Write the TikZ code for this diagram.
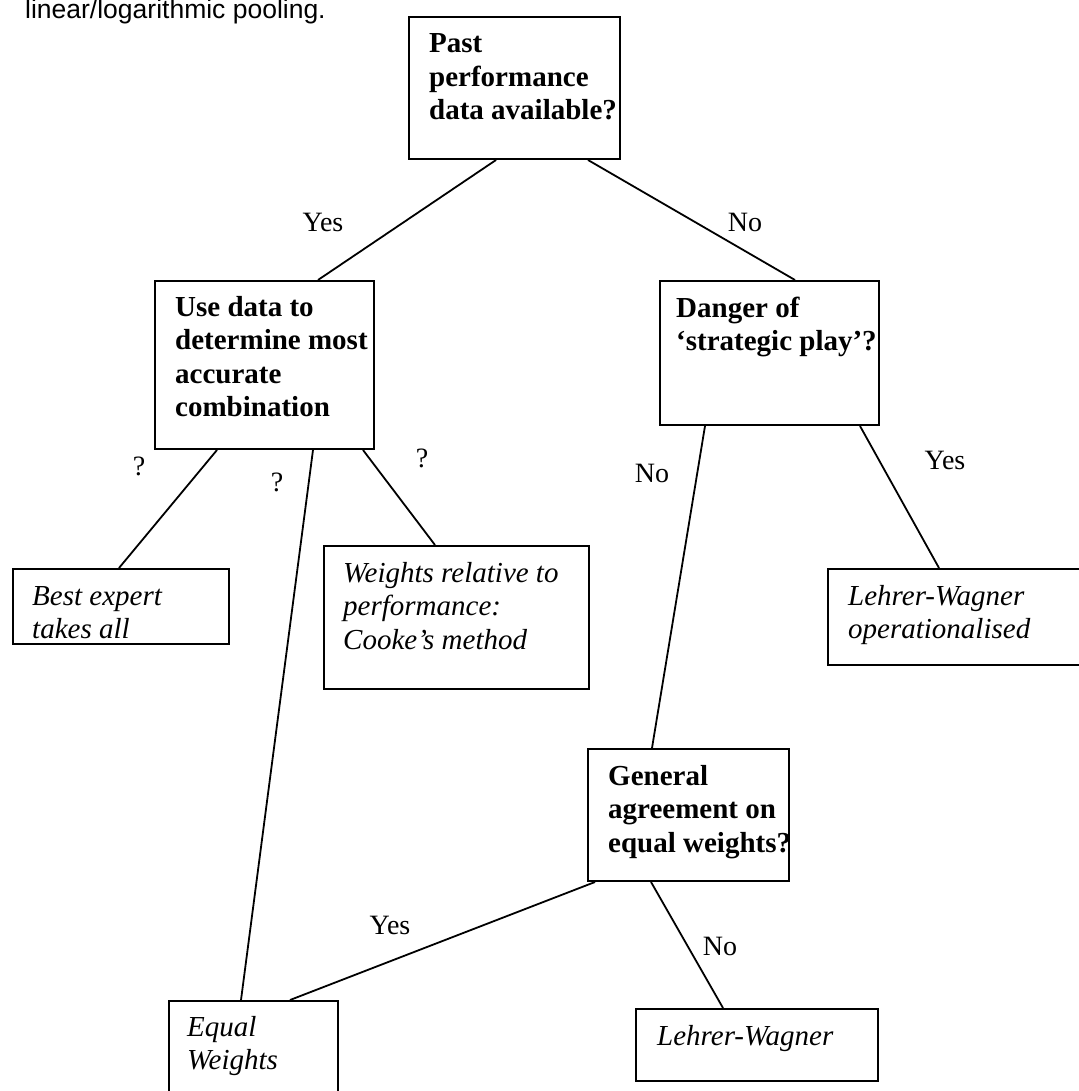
\documentclass[tikz,border=0pt]{standalone}
\usepackage{fontspec}
\setmainfont{Liberation Serif}
\newfontfamily\arialf{Liberation Sans}
\usetikzlibrary{calc}
\begin{document}
\begin{tikzpicture}[x=1pt,y=-1pt,
  box/.style={draw, line width=2pt, inner sep=0pt, anchor=north west},
  conn/.style={line width=1.8pt},
  lbl/.style={inner sep=0pt, font=\fontsize{28}{32}\selectfont},
  btxt/.style={anchor=base west, inner sep=0pt, font=\fontsize{29}{33.5}\selectfont\bfseries},
  itxt/.style={anchor=base west, inner sep=0pt, font=\fontsize{29}{33.5}\selectfont\itshape}]
\useasboundingbox (0,0) rectangle (1078,1091);
\fill[white] (0,0) rectangle (1078,1091);

\node[anchor=base west, inner sep=0pt, font=\arialf\fontsize{26.5}{30}\selectfont] (cap) at (25,19) {linear/logarithmic pooling.};

% boxes
\node[box, minimum width=211pt, minimum height=142pt] (top) at (408,16) {};
\node[box, minimum width=219pt, minimum height=168pt] (use) at (154,280) {};
\node[box, minimum width=219pt, minimum height=144pt] (danger) at (659,280) {};
\node[box, minimum width=216pt, minimum height=75pt] (best) at (12,568) {};
\node[box, minimum width=265pt, minimum height=143pt] (weights) at (323,545) {};
\node[box, minimum width=260pt, minimum height=96pt] (lwo) at (827,568) {};
\node[box, minimum width=201pt, minimum height=132pt] (general) at (587,748) {};
\node[box, minimum width=169pt, minimum height=110pt] (equal) at (168,1000) {};
\node[box, minimum width=242pt, minimum height=72pt] (lw) at (635,1008) {};

% texts
\node[btxt] (ttop) at ($(top.north west)+(21,37)$) {\parbox[t]{300pt}{Past\\performance\\data available?}};
\node[btxt] (tuse) at ($(use.north west)+(21,36)$) {\parbox[t]{300pt}{Use data to\\determine most\\accurate\\combination}};
\node[btxt] (tdanger) at ($(danger.north west)+(17,37)$) {\parbox[t]{300pt}{Danger of\\‘strategic play’?}};
\node[btxt] (tgeneral) at ($(general.north west)+(21,37)$) {\parbox[t]{300pt}{General\\agreement on\\equal weights?}};
\node[itxt] (tbest) at ($(best.north west)+(20,37)$) {\parbox[t]{300pt}{Best expert\\takes all}};
\node[itxt] (tweights) at ($(weights.north west)+(20,37)$) {\parbox[t]{300pt}{Weights relative to\\performance:\\Cooke’s method}};
\node[itxt] (tlwo) at ($(lwo.north west)+(21,37)$) {\parbox[t]{300pt}{Lehrer-Wagner\\operationalised}};
\node[itxt] (tequal) at ($(equal.north west)+(19,36)$) {\parbox[t]{300pt}{Equal\\Weights}};
\node[itxt] (tlw) at ($(lw.north west)+(22,37)$) {\parbox[t]{300pt}{Lehrer-Wagner}};

% connectors
\draw[conn] ($(top.south west)+(88,0)$) -- ($(use.north west)+(164,0)$);
\draw[conn] ($(top.south west)+(180,0)$) -- ($(danger.north west)+(136,0)$);
\draw[conn] ($(use.south west)+(63,0)$) -- ($(best.north west)+(107,0)$);
\draw[conn] ($(use.south west)+(159,0)$) -- ($(equal.north west)+(73,0)$);
\draw[conn] ($(use.south west)+(209,0)$) -- ($(weights.north west)+(112,0)$);
\draw[conn] ($(danger.south west)+(46,0)$) -- ($(general.north west)+(65,0)$);
\draw[conn] ($(danger.south west)+(201,0)$) -- ($(lwo.north west)+(112,0)$);
\draw[conn] ($(general.south west)+(8,0)$) -- ($(equal.north west)+(122,0)$);
\draw[conn] ($(general.south west)+(64,0)$) -- ($(lw.north west)+(88,0)$);

% labels
\node[lbl] (l1) at (323,222) {Yes};
\node[lbl] (l2) at (745,222) {No};
\node[lbl] (l3) at (139,466) {?};
\node[lbl] (l4) at (277,482) {?};
\node[lbl] (l5) at (422,458) {?};
\node[lbl] (l6) at (652,473) {No};
\node[lbl] (l7) at (945,460) {Yes};
\node[lbl] (l8) at (390,925) {Yes};
\node[lbl] (l9) at (720,946) {No};
\end{tikzpicture}
\end{document}
